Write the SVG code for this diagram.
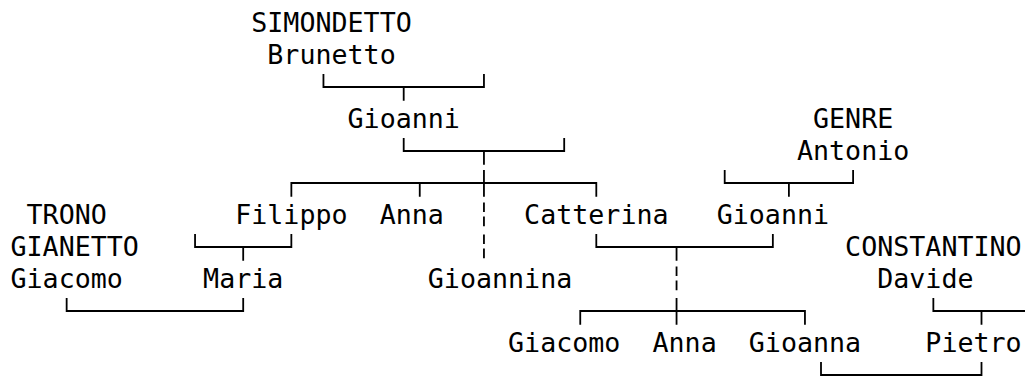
<svg xmlns="http://www.w3.org/2000/svg" width="1025" height="377" viewBox="0 0 1025 377">
<style>
text{font-family:"DejaVu Sans Mono","Liberation Mono",monospace;font-size:26.67px;fill:#000;white-space:pre}
.c path{fill:none;stroke:#000;stroke-width:1.8;stroke-linecap:butt;stroke-linejoin:miter}
</style>
<rect width="1025" height="377" fill="#fff"/>
<g class="c" id="connectors">
<path d="M323.45 74V87H483.95V74M403.7 87V100.7"/>
<path d="M403.7 138V151H564.2V138M483.95 151V164.7"/>
<path d="M291.35 196.7V183H596.3V196.7M419.75 183V196.7M483.95 170V196.7"/>
<path d="M724.7 170V183H853.1V170M788.9 183V196.7"/>
<path d="M483.95 202.5V212M483.95 216.5V226.3M483.95 234.5V244M483.95 248.5V258.3"/>
<path d="M195.05 234V247H291.35V234M243.2 247V260.7"/>
<path d="M596.3 234V247H772.85V234M676.55 247V260.7"/>
<path d="M676.55 266.5V276M676.55 280.5V290.3"/>
<path d="M66.65 298V311H243.2V298"/>
<path d="M580.25 324.7V311H804.95V324.7M676.55 298V324.7"/>
<path d="M933.35 298V311H1026M981.5 311V324.7"/>
<path d="M821 362V375H981.5V362"/>
</g>
<g id="n-simondetto-brunetto"><text x="251.25" y="31.5">SIMONDETTO</text><text x="267.3" y="63.5">Brunetto</text></g>
<g id="n-gioanni-1"><text x="347.55" y="127.5">Gioanni</text></g>
<g id="n-genre-antonio"><text x="813" y="127.5">GENRE</text><text x="796.95" y="159.5">Antonio</text></g>
<g id="n-trono-gianetto-giacomo"><text x="26.55" y="223.5">TRONO</text><text x="10.5" y="255.5">GIANETTO</text><text x="10.5" y="287.5">Giacomo</text></g>
<g id="n-filippo"><text x="235.2" y="223.5">Filippo</text></g>
<g id="n-anna-1"><text x="379.65" y="223.5">Anna</text></g>
<g id="n-catterina"><text x="524.1" y="223.5">Catterina</text></g>
<g id="n-gioanni-2"><text x="716.7" y="223.5">Gioanni</text></g>
<g id="n-constantino-davide"><text x="845.1" y="255.5">CONSTANTINO</text><text x="877.2" y="287.5">Davide</text></g>
<g id="n-maria"><text x="203.1" y="287.5">Maria</text></g>
<g id="n-gioannina"><text x="427.8" y="287.5">Gioannina</text></g>
<g id="n-giacomo-2"><text x="508.05" y="351.5">Giacomo</text></g>
<g id="n-anna-2"><text x="652.5" y="351.5">Anna</text></g>
<g id="n-gioanna"><text x="748.8" y="351.5">Gioanna</text></g>
<g id="n-pietro"><text x="925.35" y="351.5">Pietro</text></g>
</svg>
